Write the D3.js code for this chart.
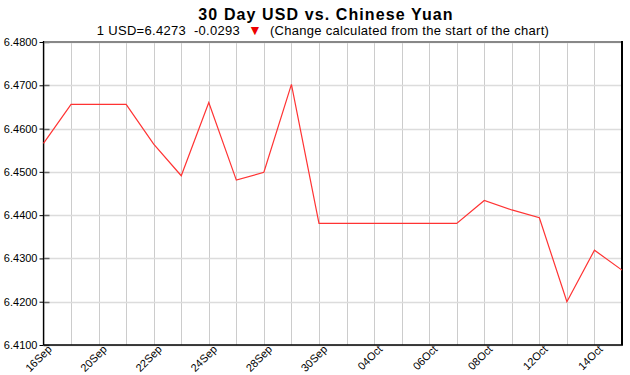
<!DOCTYPE html>
<html><head><meta charset="utf-8">
<script src="https://cdn.jsdelivr.net/npm/d3@7"></script>
<style>body{margin:0;background:#fff}svg{display:block}text{white-space:pre}</style>
</head><body>
<svg id="c" width="630" height="375"></svg>
<script>
const dates = ["16Sep","17Sep","20Sep","21Sep","22Sep","23Sep","24Sep","27Sep","28Sep","29Sep","30Sep","01Oct","04Oct","05Oct","06Oct","07Oct","08Oct","11Oct","12Oct","13Oct","14Oct","15Oct"];
const rates = [6.4566,6.4656,6.4656,6.4656,6.4564,6.4491,6.4660,6.4481,6.4499,6.4702,6.4381,6.4381,6.4381,6.4381,6.4381,6.4381,6.4434,6.4412,6.4394,6.4200,6.4319,6.4273];
const labelDates = ["16Sep","20Sep","22Sep","24Sep","28Sep","30Sep","04Oct","06Oct","08Oct","12Oct","14Oct"];
const yTicks = [6.41,6.42,6.43,6.44,6.45,6.46,6.47,6.48];
const title = "30 Day USD vs. Chinese Yuan";
const subLeft = "1 USD=6.4273  -0.0293";
const subRight = "(Change calculated from the start of the chart)";

const svg = d3.select("#c");
const L=43.5, R=622, T=42, B=345;
const x = d3.scalePoint().domain(dates).range([L,R]);
const y = d3.scaleLinear().domain([6.41,6.48]).range([B,T]);
const font = "Liberation Sans, Arial, sans-serif";

// vertical grid
svg.append("g").selectAll("line").data(dates).join("line")
  .attr("x1",d=>Math.round(x(d))+0.5).attr("x2",d=>Math.round(x(d))+0.5)
  .attr("y1",T).attr("y2",B).attr("stroke","#cccccc").attr("stroke-width",1);
// horizontal grid
svg.append("g").selectAll("line").data(yTicks).join("line")
  .attr("x1",L).attr("x2",R).attr("y1",d=>Math.round(y(d))+0.5).attr("y2",d=>Math.round(y(d))+0.5)
  .attr("stroke","#dcdcdc").attr("stroke-width",1.5);
// inner ticks
svg.append("g").selectAll("line").data(yTicks).join("line")
  .attr("x1",L).attr("x2",L+6).attr("y1",d=>Math.round(y(d))+0.5).attr("y2",d=>Math.round(y(d))+0.5)
  .attr("stroke","#666").attr("stroke-width",1.5);
// y axis labels
const ya = svg.append("g").attr("transform",`translate(${L},0)`)
  .call(d3.axisLeft(y).tickValues(yTicks).tickFormat(d3.format(".4f")).tickSize(4).tickPadding(2));
ya.select(".domain").remove();
ya.selectAll(".tick line").attr("stroke","#000");
ya.selectAll("text").attr("font-family",font).attr("font-size",11).attr("fill","#000");

// borders
svg.append("line").attr("x1",L).attr("x2",R).attr("y1",T).attr("y2",T).attr("stroke","#888").attr("stroke-width",2);
svg.append("line").attr("x1",R).attr("x2",R).attr("y1",T-1).attr("y2",B).attr("stroke","#000").attr("stroke-width",2);
svg.append("line").attr("x1",L).attr("x2",L).attr("y1",T-1).attr("y2",B).attr("stroke","#000").attr("stroke-width",1.3);
svg.append("line").attr("x1",L).attr("x2",R+1).attr("y1",B).attr("y2",B).attr("stroke","#000").attr("stroke-width",1.5);

// x labels
svg.append("g").selectAll("text").data(labelDates).join("text")
  .attr("transform",d=>`translate(${x(d)+9},${B+5}) rotate(-45)`)
  .attr("text-anchor","end").attr("font-family",font).attr("font-size",11).attr("fill","#000")
  .text(d=>d);

// line
svg.append("path").datum(rates.map((v,i)=>[dates[i],v]))
  .attr("fill","none").attr("stroke","#ff3333").attr("stroke-width",1.2)
  .attr("d",d3.line().x(d=>x(d[0])).y(d=>y(d[1])));

// title
svg.append("text").attr("x",326).attr("y",20).attr("text-anchor","middle")
  .attr("font-family",font).attr("font-weight","bold").attr("font-size",16)
  .attr("letter-spacing",1.1).text(title);
const sub = svg.append("text").attr("x",323).attr("y",35).attr("text-anchor","middle")
  .attr("font-family",font).attr("font-size",13).attr("letter-spacing",0.3);
sub.append("tspan").text(subLeft+"  ");
sub.append("tspan").attr("fill","#e00").attr("font-size",14).text("\u25BC");
sub.append("tspan").text("  "+subRight);
</script>
</body></html>
